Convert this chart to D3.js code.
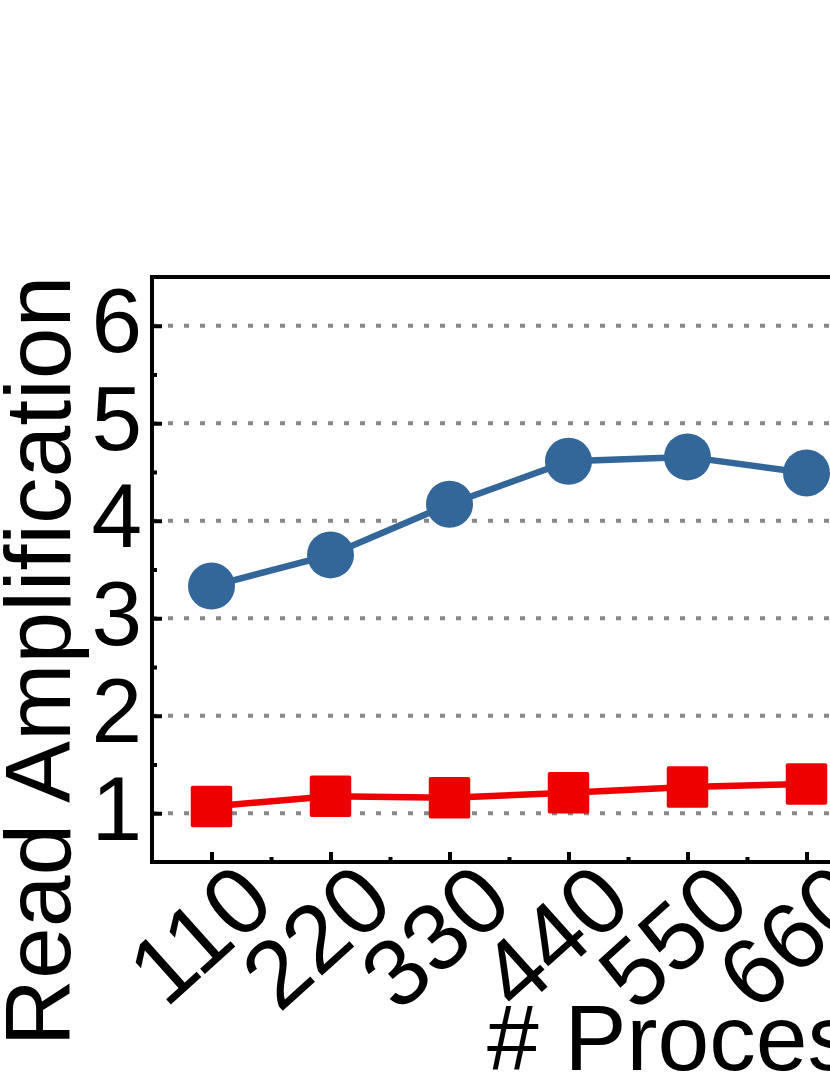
<!DOCTYPE html>
<html>
<head>
<meta charset="utf-8">
<script src="https://cdn.jsdelivr.net/npm/d3@7"></script>
<style>
  html, body { margin: 0; padding: 0; background: #fff; overflow: hidden; }
  svg { display: block; }
</style>
</head>
<body>
<svg></svg>
<script>
// data
let processes = [110, 220, 330, 440, 550, 660]
let blueValues = [3.33, 3.65, 4.17, 4.61, 4.655, 4.49]
let redValues = [1.07, 1.175, 1.16, 1.21, 1.27, 1.30]
let yTicks = [1, 2, 3, 4, 5, 6]
let yMinorTicks = [1.5, 2.5, 3.5, 4.5, 5.5]
let xMinorTicks = [165, 275, 385, 495, 605, 715]

let width = 830
let height = 1075

let plotLeft = 152
let plotTop = 277
let plotBottom = 862
let plotRight = 1320

let font = '"Liberation Sans", Arial, sans-serif'

let svg = d3.select('svg')
    .attr('width', width)
    .attr('height', height)

let xScale = d3.scaleLinear()
    .domain([55, 1155])
    .range([plotLeft, plotLeft + 119 * 10])

let yScale = d3.scaleLinear()
    .domain([0.5, 6.5])
    .range([plotBottom, plotTop])

// dotted grid
svg.append('g')
    .selectAll('line')
    .data(yTicks)
    .enter()
    .append('line')
    .attr('x1', plotLeft)
    .attr('x2', plotRight)
    .attr('y1', (d) => yScale(d))
    .attr('y2', (d) => yScale(d))
    .attr('stroke', '#888888')
    .attr('stroke-width', 4)
    .attr('stroke-dasharray', '5,11')

// y axis (ticks point inward)
let yAxis = d3.axisLeft(yScale)
    .tickValues(yTicks)
    .tickSize(-10)
    .tickPadding(10)
    .tickFormat(d3.format('d'))

let yAxisG = svg.append('g')
    .attr('transform', 'translate(' + plotLeft + ', 0)')
    .call(yAxis)
yAxisG.select('.domain').remove()
yAxisG.selectAll('line').attr('stroke', '#000').attr('stroke-width', 4)
yAxisG.selectAll('text')
    .attr('font-family', font)
    .attr('font-size', 91)
    .attr('fill', '#000')
    .attr('dy', 26)

let yMinor = d3.axisLeft(yScale)
    .tickValues(yMinorTicks)
    .tickSize(-5)
    .tickFormat('')
let yMinorG = svg.append('g')
    .attr('transform', 'translate(' + plotLeft + ', 0)')
    .call(yMinor)
yMinorG.select('.domain').remove()
yMinorG.selectAll('line').attr('stroke', '#000').attr('stroke-width', 4)

// x axis
let xAxis = d3.axisBottom(xScale)
    .tickValues(processes)
    .tickSize(-10)
    .tickFormat(d3.format('d'))

let xAxisG = svg.append('g')
    .attr('transform', 'translate(0, ' + plotBottom + ')')
    .call(xAxis)
xAxisG.select('.domain').remove()
xAxisG.selectAll('line').attr('stroke', '#000').attr('stroke-width', 4)
xAxisG.selectAll('text')
    .attr('font-family', font)
    .attr('font-size', 95)
    .attr('fill', '#000')
    .attr('text-anchor', 'end')
    .attr('x', 0)
    .attr('y', 0)
    .attr('dy', 0)
    .attr('transform', 'translate(66, 46) rotate(-42)')

let xMinor = d3.axisBottom(xScale)
    .tickValues(xMinorTicks)
    .tickSize(-5)
    .tickFormat('')
let xMinorG = svg.append('g')
    .attr('transform', 'translate(0, ' + plotBottom + ')')
    .call(xMinor)
xMinorG.select('.domain').remove()
xMinorG.selectAll('line').attr('stroke', '#000').attr('stroke-width', 4)

// frame
svg.append('rect')
    .attr('x', plotLeft)
    .attr('y', plotTop)
    .attr('width', plotRight - plotLeft)
    .attr('height', plotBottom - plotTop)
    .attr('fill', 'none')
    .attr('stroke', '#000')
    .attr('stroke-width', 4)

// series
let seriesLine = d3.line()
    .x((d, i) => xScale(processes[i]))
    .y((d) => yScale(d))

svg.append('path')
    .datum(blueValues)
    .attr('d', seriesLine)
    .attr('fill', 'none')
    .attr('stroke', '#336699')
    .attr('stroke-width', 6.5)

svg.append('path')
    .datum(redValues)
    .attr('d', seriesLine)
    .attr('fill', 'none')
    .attr('stroke', '#ee0000')
    .attr('stroke-width', 6.5)

svg.selectAll('circle.blue')
    .data(blueValues)
    .enter()
    .append('circle')
    .attr('class', 'blue')
    .attr('cx', (d, i) => xScale(processes[i]))
    .attr('cy', (d) => yScale(d))
    .attr('r', 23.5)
    .attr('fill', '#336699')

let side = 41.5
svg.selectAll('rect.red')
    .data(redValues)
    .enter()
    .append('rect')
    .attr('class', 'red')
    .attr('x', (d, i) => xScale(processes[i]) - side / 2)
    .attr('y', (d) => yScale(d) - side / 2)
    .attr('width', side)
    .attr('height', side)
    .attr('rx', 2)
    .attr('fill', '#ee0000')

// titles
svg.append('text')
    .attr('transform', 'translate(70, 661) rotate(-90)')
    .attr('text-anchor', 'middle')
    .attr('font-family', font)
    .attr('font-size', 93)
    .text('Read Amplification')

svg.append('text')
    .attr('x', 487)
    .attr('y', 1070)
    .attr('font-family', font)
    .attr('font-size', 93)
    .text('# Processes')
</script>
</body>
</html>
